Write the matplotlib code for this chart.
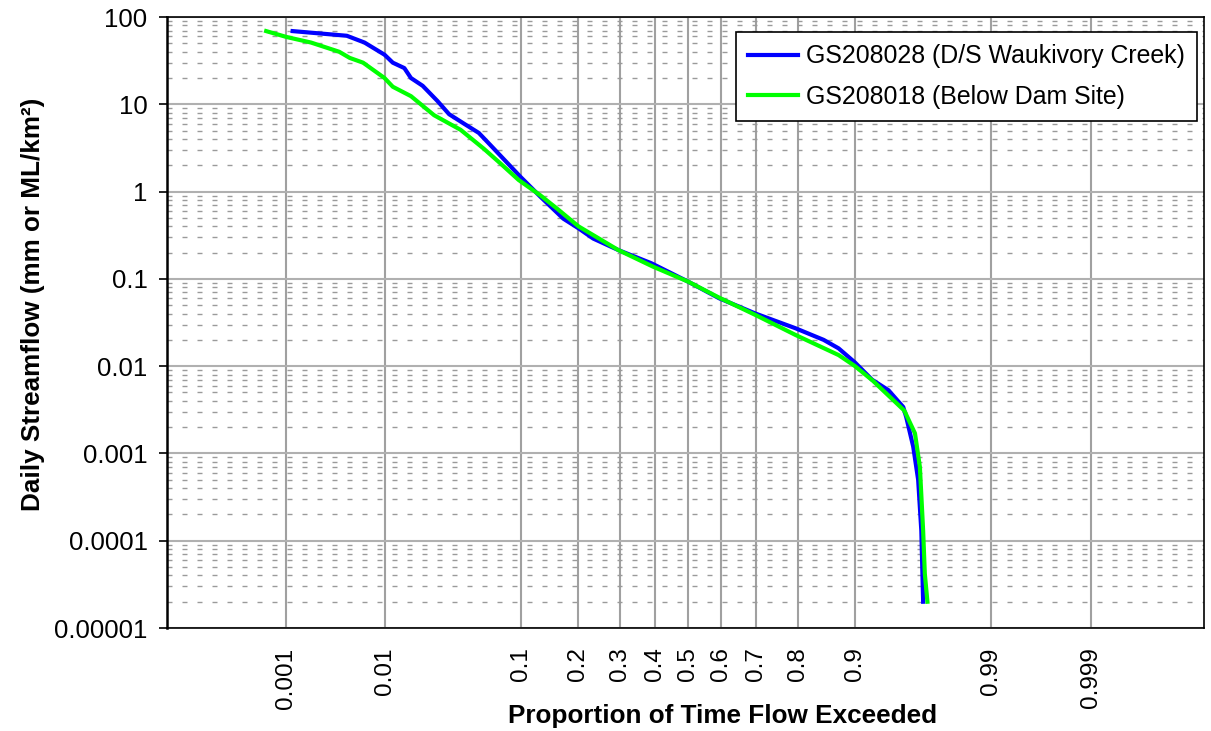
import math
import numpy as np
import matplotlib
matplotlib.use("Agg")
import matplotlib.pyplot as plt
from matplotlib.ticker import FixedLocator, FixedFormatter, LogLocator, NullLocator

plt.rcParams['font.family'] = ['Liberation Sans', 'DejaVu Sans']

# flow duration data: proportion of time exceeded vs daily streamflow
p_blue = [0.0012, 0.0044, 0.0065, 0.0099, 0.0117, 0.0147, 0.0167, 0.0208, 0.0272, 0.0333,
          0.0427, 0.0541, 0.0647, 0.099, 0.128, 0.169, 0.200, 0.233, 0.296, 0.389,
          0.500, 0.594, 0.698, 0.795, 0.851, 0.876, 0.900, 0.921, 0.938, 0.9507,
          0.953, 0.958, 0.9613, 0.9633, 0.9644]
q_blue = [69, 61, 51, 37, 30, 26, 20, 16.3, 10.9, 7.7,
          6.0, 4.7, 3.4, 1.48, 0.88, 0.49, 0.38, 0.29, 0.214, 0.151,
          0.093, 0.060, 0.040, 0.0272, 0.020, 0.016, 0.011, 0.0070, 0.0053, 0.0034,
          0.0026, 0.0012, 0.0005, 0.00013, 0.00002]

p_green = [0.0006, 0.00103, 0.0019, 0.0037, 0.0047, 0.0063, 0.0099, 0.0117, 0.0167, 0.0256,
           0.0404, 0.0584, 0.0749, 0.0966, 0.128, 0.157, 0.200, 0.296, 0.394, 0.500,
           0.594, 0.698, 0.795, 0.876, 0.900, 0.922, 0.9515, 0.9592, 0.9624, 0.9644,
           0.9654, 0.9669]
q_green = [69, 59, 51, 40, 34, 30, 20, 15.9, 12.4, 7.5,
           5.1, 3.1, 2.1, 1.36, 0.91, 0.64, 0.40, 0.214, 0.138, 0.093,
           0.061, 0.0385, 0.0228, 0.0134, 0.0100, 0.0068, 0.0031, 0.0017, 0.0007, 0.00013,
           0.000042, 0.00002]

label_blue = 'GS208028 (D/S Waukivory Creek)'
label_green = 'GS208018 (Below Dam Site)'

x_ticks = [0.001, 0.01, 0.1, 0.2, 0.3, 0.4, 0.5, 0.6, 0.7, 0.8, 0.9, 0.99, 0.999]
x_labels = ['0.001', '0.01', '0.1', '0.2', '0.3', '0.4', '0.5', '0.6', '0.7', '0.8', '0.9', '0.99', '0.999']
y_ticks = [1e-5, 1e-4, 1e-3, 1e-2, 1e-1, 1, 10, 100]
y_labels = ['0.00001', '0.0001', '0.001', '0.01', '0.1', '1', '10', '100']


def norm_ppf(p):
    # Acklam's rational approximation of the inverse normal cdf
    p = np.clip(np.asarray(p, dtype=float), 1e-12, 1 - 1e-12)
    a = [-3.969683028665376e+01, 2.209460984245205e+02, -2.759285104469687e+02,
         1.383577518672690e+02, -3.066479806614716e+01, 2.506628277459239e+00]
    b = [-5.447609879822406e+01, 1.615858368580409e+02, -1.556989798598866e+02,
         6.680131188771972e+01, -1.328068155288572e+01]
    c = [-7.784894002430293e-03, -3.223964580411365e-01, -2.400758277161838e+00,
         -2.549732539343734e+00, 4.374664141464968e+00, 2.938163982698783e+00]
    d = [7.784695709041462e-03, 3.224671290700398e-01, 2.445134137142996e+00,
         3.754408661907416e+00]
    plow = 0.02425
    out = np.empty_like(p)
    lo = p < plow
    hi = p > 1 - plow
    mid = ~(lo | hi)
    q = np.sqrt(-2 * np.log(p[lo]))
    out[lo] = (((((c[0]*q+c[1])*q+c[2])*q+c[3])*q+c[4])*q+c[5]) / ((((d[0]*q+d[1])*q+d[2])*q+d[3])*q+1)
    q = np.sqrt(-2 * np.log(1 - p[hi]))
    out[hi] = -(((((c[0]*q+c[1])*q+c[2])*q+c[3])*q+c[4])*q+c[5]) / ((((d[0]*q+d[1])*q+d[2])*q+d[3])*q+1)
    q = p[mid] - 0.5
    r = q * q
    out[mid] = (((((a[0]*r+a[1])*r+a[2])*r+a[3])*r+a[4])*r+a[5])*q / (((((b[0]*r+b[1])*r+b[2])*r+b[3])*r+b[4])*r+1)
    return out


_erf = np.vectorize(math.erf)


def norm_cdf(z):
    z = np.asarray(z, dtype=float)
    return 0.5 * (1 + _erf(z / math.sqrt(2)))


fig = plt.figure(figsize=(12.11, 7.31), dpi=100)
ax = fig.add_axes([0.1379, 0.1409, 0.8563, 0.8358])

ax.set_xscale('function', functions=(norm_ppf, norm_cdf))
ax.set_yscale('log')

ax.plot(p_blue, q_blue, color='#0000FF', lw=3, label=label_blue, zorder=3)
ax.plot(p_green, q_green, color='#00FF00', lw=3, label=label_green, zorder=3)

ax.set_xlim(norm_cdf(-4.0), norm_cdf(3.96))
ax.set_ylim(1e-5, 100)

ax.xaxis.set_major_locator(FixedLocator(x_ticks))
ax.xaxis.set_major_formatter(FixedFormatter(x_labels))
ax.xaxis.set_minor_locator(NullLocator())
ax.yaxis.set_major_locator(FixedLocator(y_ticks))
ax.yaxis.set_major_formatter(FixedFormatter(y_labels))
ax.yaxis.set_minor_locator(LogLocator(base=10, subs=np.arange(2, 10)))

ax.grid(which='major', axis='x', color='#a0a0a0', lw=1.5, ls='-')
ax.grid(which='major', axis='y', color='#b0b0b0', lw=1.5, ls='-')
ax.grid(which='minor', axis='y', color='#9a9a9a', lw=1.0, ls=(0, (3.6, 7.2)))

ax.tick_params(axis='x', which='major', length=0, pad=14, labelsize=17.5, labelrotation=90)
ax.tick_params(axis='y', which='major', length=6, width=1.2, direction='out', labelsize=18.5, pad=8)
ax.tick_params(which='minor', length=0)

for s in ax.spines.values():
    s.set_color('black')
    s.set_linewidth(1.2)
ax.spines['left'].set_linewidth(1.8)

ax.set_xlabel('Proportion of Time Flow Exceeded', fontsize=18.8, fontweight='bold')
ax.xaxis.set_label_coords(0.536, -0.125)
ax.set_ylabel('Daily Streamflow (mm or ML/km²)', fontsize=18.8, fontweight='bold')
ax.yaxis.set_label_coords(-0.118, 0.53)

leg = ax.legend(loc='upper right', bbox_to_anchor=(0.9932, 0.9755), borderaxespad=0,
                fontsize=17.9, frameon=True, fancybox=False, handlelength=2.0,
                handletextpad=0.3, labelspacing=0.65, borderpad=0.5)
leg.get_frame().set_edgecolor('black')
leg.get_frame().set_linewidth(1.2)
leg.get_frame().set_alpha(1)

plt.savefig('out.png', dpi=100)
